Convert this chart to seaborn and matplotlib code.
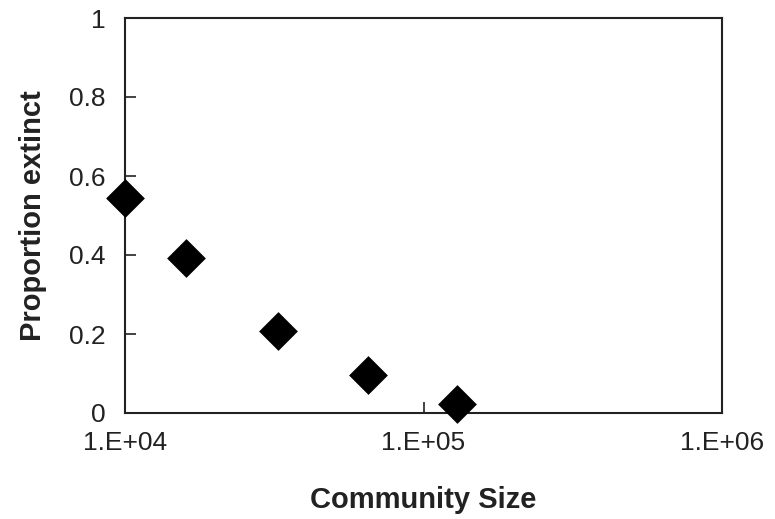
import matplotlib
matplotlib.use("Agg")
import matplotlib.pyplot as plt
import pandas as pd
import seaborn as sns

# community size vs proportion of runs going extinct
community_size = [1.0e4, 1.6e4, 3.25e4, 6.5e4, 1.29e5]
proportion_extinct = [0.545, 0.392, 0.207, 0.096, 0.023]
x_ticks = [1e4, 1e5, 1e6]
x_tick_labels = ["1.E+04", "1.E+05", "1.E+06"]
y_ticks = [0, 0.2, 0.4, 0.6, 0.8, 1]
y_tick_labels = ["0", "0.2", "0.4", "0.6", "0.8", "1"]

df = pd.DataFrame({"size": community_size, "extinct": proportion_extinct})

sns.set_style("ticks")
plt.rcParams["font.family"] = ["Liberation Sans", "DejaVu Sans"]

fig = plt.figure(figsize=(7.75, 5.19), dpi=100)
ax = fig.add_axes([125 / 775, 1 - 413 / 519, 597 / 775, 395 / 519])

sns.scatterplot(data=df, x="size", y="extinct", marker="D", s=390,
                color="black", edgecolor="black", linewidth=0,
                ax=ax, clip_on=False, zorder=5)

ax.set_xscale("log")
ax.set_xlim(1e4, 1e6)
ax.set_ylim(0, 1)
ax.set_xticks(x_ticks)
ax.set_xticklabels(x_tick_labels)
ax.minorticks_off()
ax.set_yticks(y_ticks)
ax.set_yticklabels(y_tick_labels)
ax.tick_params(direction="in", length=8, width=1.2, labelsize=19, colors="#222222")
ax.tick_params(axis="x", pad=13)
ax.tick_params(axis="y", pad=14)
for side in ax.spines.values():
    side.set_linewidth(1.5)
    side.set_color("#222222")

ax.set_xlabel("Community Size", fontsize=21, fontweight="bold", labelpad=22,
              color="#222222")
ax.set_ylabel("Proportion extinct", fontsize=21, fontweight="bold", labelpad=16,
              color="#222222")

fig.savefig("out.png", dpi=100)
